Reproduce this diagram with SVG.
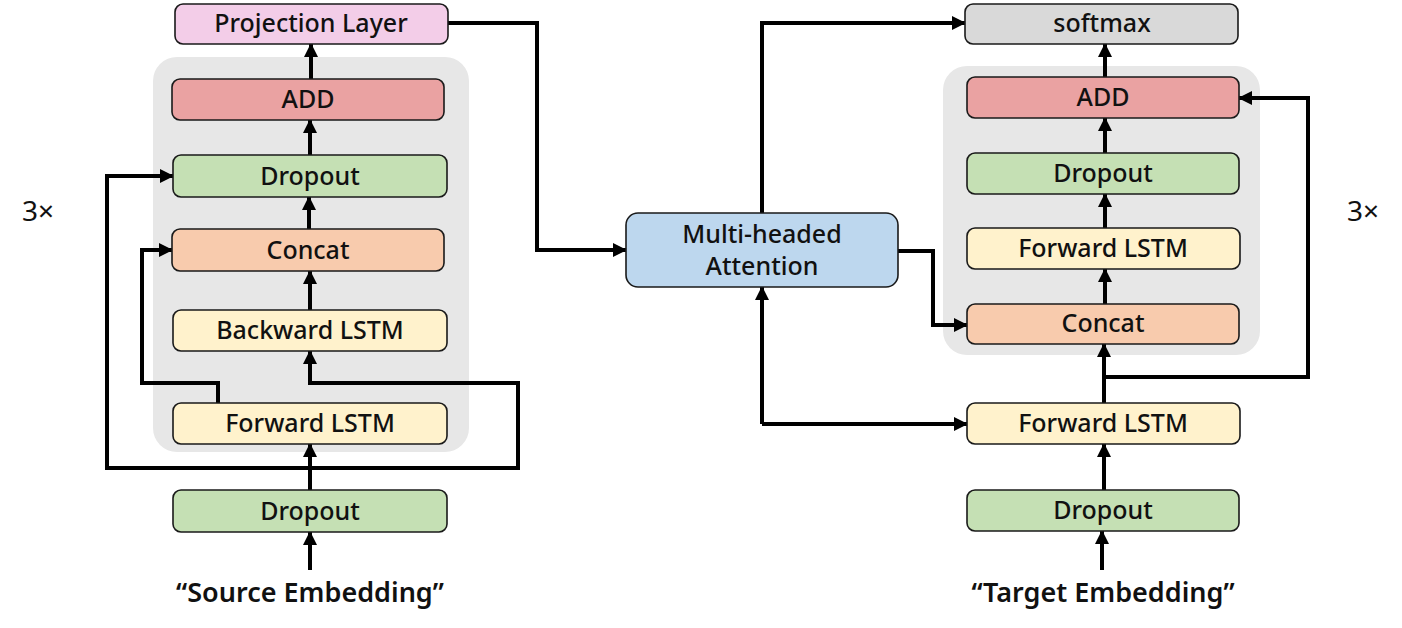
<svg xmlns="http://www.w3.org/2000/svg" width="1402" height="628" viewBox="0 0 1402 628">
<style>
.box{stroke:#1a1a1a;stroke-width:1.6}
.lbl{font-family:"Noto Sans","DejaVu Sans",sans-serif;font-size:25px;font-weight:500;fill:#111;text-anchor:middle}
.emb{font-family:"Noto Sans","DejaVu Sans",sans-serif;font-size:27px;font-weight:600;fill:#111;text-anchor:middle}
.rep{font-family:"Noto Sans","DejaVu Sans",sans-serif;font-size:28px;fill:#111;text-anchor:middle}
.panel{fill:#E7E7E7}
.c{fill:none;stroke:#000;stroke-width:4;stroke-linejoin:miter}
.a{marker-end:url(#ah)}
</style>
<defs>
<marker id="ah" viewBox="0 0 14 14" refX="13" refY="7" markerWidth="14" markerHeight="14" markerUnits="userSpaceOnUse" orient="auto">
<path d="M0,0 L14,7 L0,14 Z" fill="#000"/>
</marker>
</defs>
<rect id="panel-left" class="panel" x="153" y="57" width="316" height="395" rx="24"/>
<rect id="panel-right" class="panel" x="943" y="66" width="317" height="289" rx="24"/>
<g id="connectors">
<path class="c a" d="M310,490 V444"/>
<path class="c a" d="M310,468 H107 V176 H173"/>
<path class="c a" d="M310,468 H518 V383 H310 V351"/>
<path class="c a" d="M218,403 V383 H142 V250 H172"/>
<path class="c a" d="M310,310 V271"/>
<path class="c a" d="M309,229 V197"/>
<path class="c a" d="M310,155 V120"/>
<path class="c a" d="M311,79 V44"/>
<path class="c a" d="M310,570 V532"/>
<path class="c a" d="M448,23 H537 V250 H626"/>
<path class="c a" d="M762,213 V23 H965"/>
<path class="c a" d="M898,251 H933 V325 H967"/>
<path class="c a" d="M762,424 V287"/>
<path class="c a" d="M762,424 H967"/>
<path class="c a" d="M1105,77 V44"/>
<path class="c a" d="M1105,153 V118"/>
<path class="c a" d="M1105,228 V194"/>
<path class="c a" d="M1105,304 V269"/>
<path class="c a" d="M1104,403 V344"/>
<path class="c a" d="M1104,377 H1308 V98 H1239"/>
<path class="c a" d="M1104,490 V444"/>
<path class="c a" d="M1102,570 V531"/>
</g>
<g id="projection"><rect class="box" x="175" y="4" width="273" height="40" rx="8" fill="#F3CDE8"/><text class="lbl" x="311" y="32">Projection Layer</text></g>
<g id="add-left"><rect class="box" x="172" y="79" width="272" height="41" rx="8" fill="#EAA2A2"/><text class="lbl" x="308" y="108">ADD</text></g>
<g id="dropout-left-top"><rect class="box" x="173" y="155" width="274" height="42" rx="8" fill="#C5E0B4"/><text class="lbl" x="310" y="185">Dropout</text></g>
<g id="concat-left"><rect class="box" x="172" y="229" width="272" height="42" rx="8" fill="#F8CBAD"/><text class="lbl" x="308" y="259">Concat</text></g>
<g id="backward-lstm"><rect class="box" x="173" y="310" width="274" height="41" rx="8" fill="#FFF2CC"/><text class="lbl" x="310" y="339">Backward LSTM</text></g>
<g id="forward-lstm-left"><rect class="box" x="173" y="403" width="274" height="41" rx="8" fill="#FFF2CC"/><text class="lbl" x="310" y="432">Forward LSTM</text></g>
<g id="dropout-left-bottom"><rect class="box" x="173" y="490" width="274" height="42" rx="8" fill="#C5E0B4"/><text class="lbl" x="310" y="520">Dropout</text></g>
<g id="source-embedding"><text class="emb" x="310" y="602">“Source Embedding”</text></g>
<g id="rep-left"><text class="rep" x="38" y="221">3×</text></g>
<g id="attention"><rect class="box" x="626" y="213" width="272" height="74" rx="12" fill="#BDD7EE"/><text class="lbl" x="762" y="243">Multi-headed</text><text class="lbl" x="762" y="275">Attention</text></g>
<g id="softmax"><rect class="box" x="965" y="4" width="273" height="40" rx="8" fill="#D9D9D9"/><text class="lbl" x="1102" y="32">softmax</text></g>
<g id="add-right"><rect class="box" x="967" y="77" width="272" height="41" rx="8" fill="#EAA2A2"/><text class="lbl" x="1103" y="106">ADD</text></g>
<g id="dropout-right-top"><rect class="box" x="967" y="153" width="272" height="41" rx="8" fill="#C5E0B4"/><text class="lbl" x="1103" y="182">Dropout</text></g>
<g id="forward-lstm-right-top"><rect class="box" x="967" y="228" width="273" height="41" rx="8" fill="#FFF2CC"/><text class="lbl" x="1103" y="257">Forward LSTM</text></g>
<g id="concat-right"><rect class="box" x="967" y="304" width="272" height="40" rx="8" fill="#F8CBAD"/><text class="lbl" x="1103" y="332">Concat</text></g>
<g id="forward-lstm-right-bottom"><rect class="box" x="967" y="403" width="273" height="41" rx="8" fill="#FFF2CC"/><text class="lbl" x="1103" y="432">Forward LSTM</text></g>
<g id="dropout-right-bottom"><rect class="box" x="967" y="490" width="272" height="41" rx="8" fill="#C5E0B4"/><text class="lbl" x="1103" y="519">Dropout</text></g>
<g id="target-embedding"><text class="emb" x="1103" y="602">“Target Embedding”</text></g>
<g id="rep-right"><text class="rep" x="1363" y="221">3×</text></g>
</svg>
